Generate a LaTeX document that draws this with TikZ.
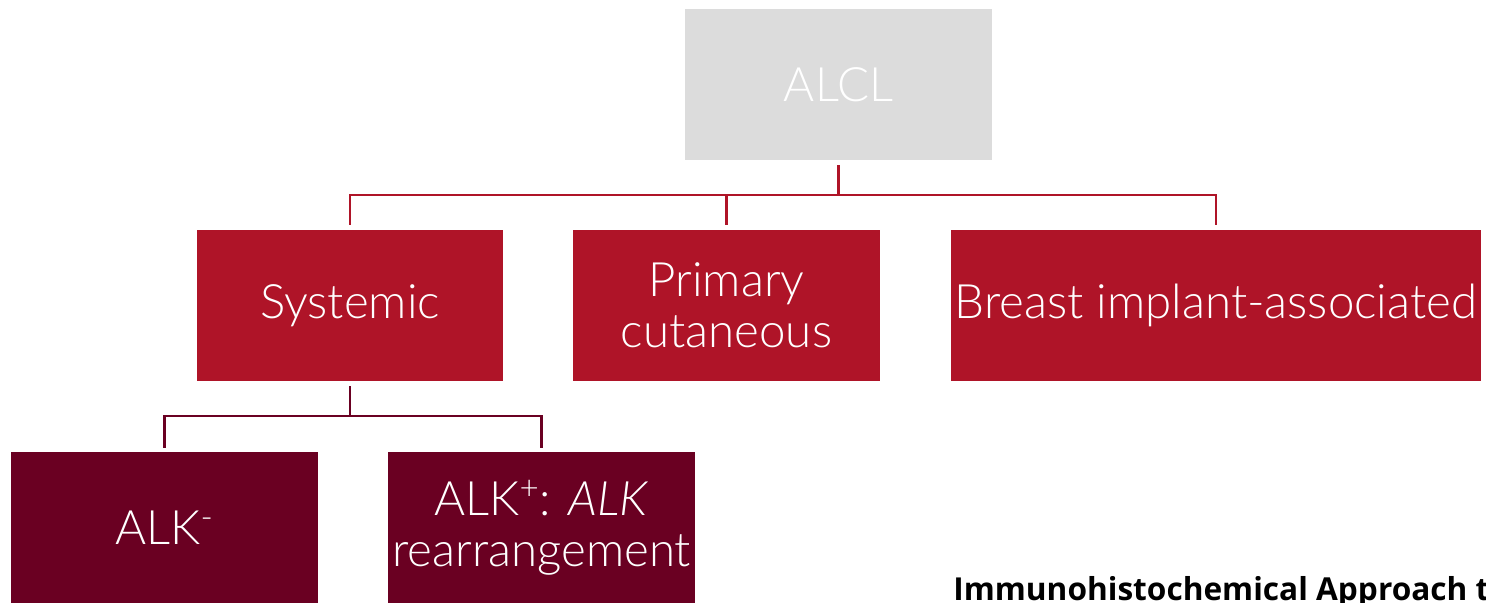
\documentclass[tikz,border=0pt]{standalone}
\usepackage{fontspec}
\setmainfont{Lato}[UprightFont=* Light, ItalicFont=* Light Italic, BoldFont=* Bold]
\newfontfamily\titlefont{Open Sans}
\usetikzlibrary{calc}

\definecolor{alclgray}{HTML}{DCDCDC}
\definecolor{subred}{HTML}{AF1428}
\definecolor{alkdark}{HTML}{6A0022}

\tikzset{
  typebox/.style={minimum width=6.14cm, minimum height=3.02cm, inner sep=0pt,
    align=center, text=white, font=\fontsize{27}{29}\selectfont},
  linkred/.style={draw=subred, line width=1.6pt},
  linkdark/.style={draw=alkdark, line width=1.6pt}
}

\begin{document}
\begin{tikzpicture}[x=0.02cm, y=-0.02cm]
        \useasboundingbox (0,0) rectangle (1486,602);
        \clip (0,0) rectangle (1486,602);
        % top of the tree
        \node[typebox, fill=alclgray] (alcl) at (838.5,84.5) {ALCL};
        % second row
        \node[typebox, fill=subred] (sys) at (350,305.5) {Systemic};
        \node[typebox, fill=subred] (prim) at (726.5,305.5) {Primary\\cutaneous};
        \node[typebox, fill=subred, minimum width=10.6cm] (brst) at (1216,305.5) {Breast implant-associated};
        % third row
        \node[typebox, fill=alkdark] (alkneg) at (164.5,527.5) {ALK\textsuperscript{-}};
        \node[typebox, fill=alkdark] (alkpos) at (541.5,527.5) {ALK\textsuperscript{+}: \textit{ALK}\\rearrangement};

        \coordinate (topbar) at (838.5,195);
        \draw[linkred] ([yshift=-0.1cm]alcl.south) -- (topbar);
        \draw[linkred] ([yshift=0.1cm]sys.north) |- (topbar) -| ([yshift=0.1cm]brst.north);
        \draw[linkred] ([yshift=0.1cm]prim.north) -- (prim.north |- topbar);

        \coordinate (sysbar) at (350,416);
        \draw[linkdark] ([yshift=-0.1cm]sys.south) -- (sysbar);
        \draw[linkdark] ([yshift=0.08cm]alkneg.north) |- (sysbar) -| ([yshift=0.08cm]alkpos.north);

        % caption cut off at the edge
        \node[anchor=base west, inner sep=0pt, font=\titlefont\bfseries\fontsize{18}{22}\selectfont] (capt) at (953,600) {Immunohistochemical Approach to};
\end{tikzpicture}
\end{document}
